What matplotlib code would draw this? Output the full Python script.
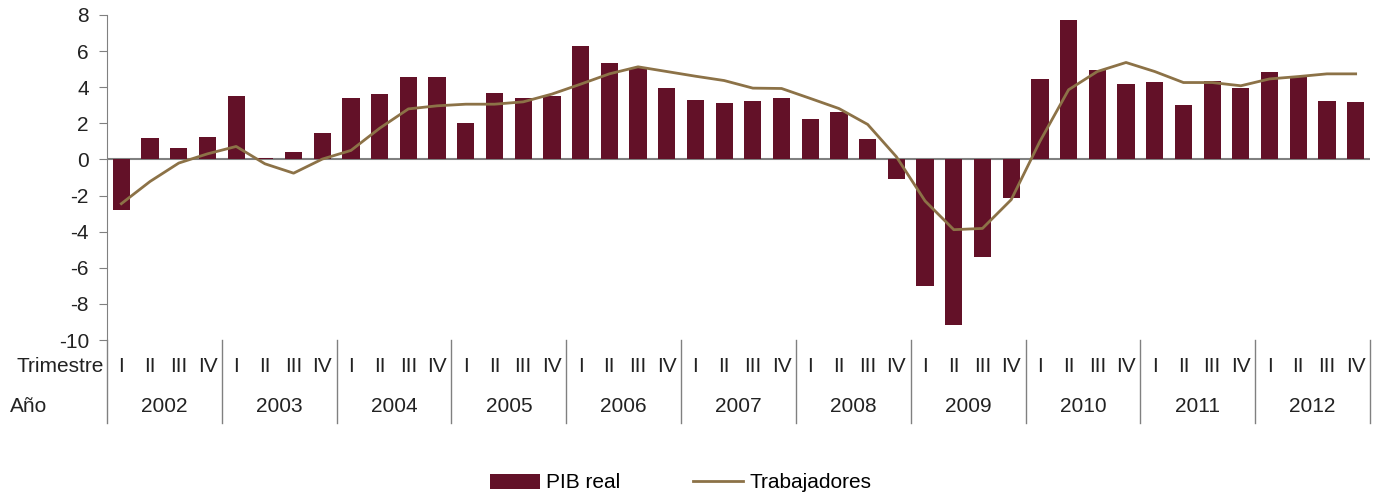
import matplotlib.pyplot as plt
import matplotlib.transforms as mtransforms
import numpy as np

plt.rcParams['font.family'] = ['Liberation Sans', 'DejaVu Sans']
plt.rcParams['axes.unicode_minus'] = False

years = ['2002', '2003', '2004', '2005', '2006', '2007',
         '2008', '2009', '2010', '2011', '2012']
quarters = ['I', 'II', 'III', 'IV']

# PIB real, variación anual (%)
pib = [-2.8, 1.2, 0.65, 1.27,
       3.52, 0.09, 0.42, 1.48,
       3.41, 3.63, 4.58, 4.58,
       2.03, 3.69, 3.41, 3.52,
       6.29, 5.35, 5.06, 3.97,
       3.30, 3.14, 3.25, 3.41,
       2.25, 2.64, 1.14, -1.07,
       -7.03, -9.19, -5.42, -2.16,
       4.46, 7.73, 4.96, 4.19,
       4.30, 3.03, 4.35, 3.97,
       4.85, 4.56, 3.25, 3.19]

# Trabajadores, variación anual (%)
trab = [-2.45, -1.22, -0.2, 0.31,
        0.72, -0.24, -0.76, 0.02,
        0.5, 1.73, 2.8, 2.97,
        3.06, 3.06, 3.19, 3.62,
        4.17, 4.74, 5.13, 4.87,
        4.61, 4.37, 3.95, 3.93,
        3.38, 2.82, 1.94, 0.15,
        -2.3, -3.89, -3.82, -2.23,
        1.0, 3.86, 4.87, 5.37,
        4.87, 4.26, 4.26, 4.08,
        4.46, 4.59, 4.74, 4.74]

bar_color = '#631128'
line_color = '#8c7247'
grey = '#808080'
txt = '#222222'
fs = 15

fig = plt.figure(figsize=(13.8, 5), dpi=100)
ax = fig.add_axes([107 / 1380, 0.32, (1370 - 107) / 1380, 0.65])

x = np.arange(len(pib))
bars = ax.bar(x, pib, width=0.6, color=bar_color, label='PIB real', zorder=2)
line, = ax.plot(x, trab, color=line_color, lw=2, label='Trabajadores', zorder=3)
ax.axhline(0, color=grey, lw=1.5, zorder=1)

ax.set_xlim(-0.5, len(pib) - 0.5)
ax.set_ylim(-10, 8)
ax.set_yticks(np.arange(-10, 9, 2))
ax.set_xticks([])
for s in ['top', 'right', 'bottom']:
    ax.spines[s].set_visible(False)
ax.spines['left'].set_color(grey)
ax.tick_params(axis='y', colors=grey, length=6, pad=7, labelsize=fs, labelcolor=txt)

# tabla de categorías bajo el eje
trans = mtransforms.blended_transform_factory(ax.transData, ax.transAxes)
y_tri = -27 / 325
y_ano = -67 / 325
y_end = -83 / 325
for k in range(len(years) + 1):
    xb = 4 * k - 0.5
    ax.plot([xb, xb], [0, y_end], color=grey, lw=1, transform=trans, clip_on=False)
for i in range(len(pib)):
    ax.text(i, y_tri, quarters[i % 4], transform=trans, ha='center', va='center',
            fontsize=fs, color=txt)
for k, yr in enumerate(years):
    ax.text(4 * k + 1.5, y_ano, yr, transform=trans, ha='center', va='center',
            fontsize=fs, color=txt)
fig.text(104 / 1380, 1 - 367 / 500, 'Trimestre', ha='right', va='center',
         fontsize=fs, color=txt)
fig.text(10 / 1380, 1 - 407 / 500, 'Año', ha='left', va='center',
         fontsize=fs, color=txt)

fig.legend([bars, line], ['PIB real', 'Trabajadores'], loc='center',
           bbox_to_anchor=(0.493, 1 - 483 / 500), ncol=2,
           frameon=False, fontsize=fs, handlelength=2.4, columnspacing=3.5,
           handletextpad=0.3)

fig.savefig('out.png', dpi=100)
